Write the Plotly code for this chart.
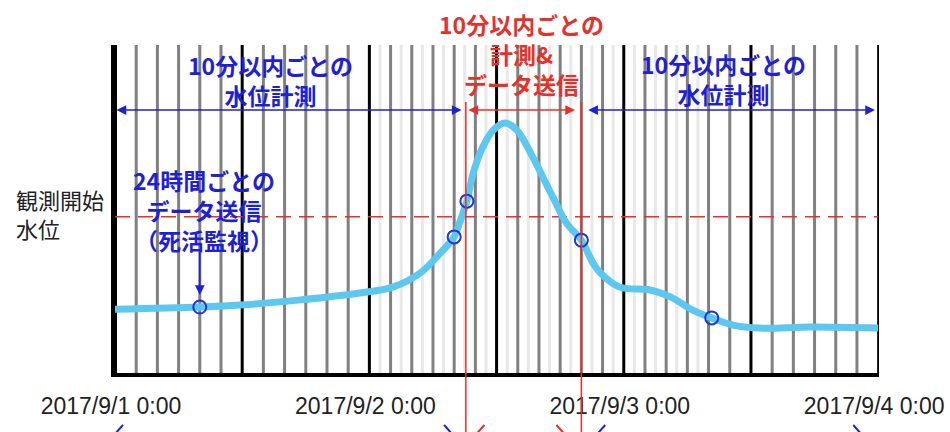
import plotly.graph_objects as go
import pandas as pd

# ---------------- data ----------------
start = pd.Timestamp("2017-09-01 00:00")
level_hours = [0, 8, 11.8, 17.5, 23.1, 26.2, 28.8, 30.7, 32, 32.5, 33.2, 33.8, 34.7, 35.7, 36.8,
               37.9, 39.4, 41.3, 42.6, 44, 45.1, 45.8, 47.6, 50.5, 52.4, 54.5, 56.3, 58.3,
               60.8, 65.6, 72]
level_values = [19.4, 20.1, 20.7, 22.3, 24.4, 26.2, 30.5, 36.6, 41.5, 45.7, 52.4, 61.0, 68.9, 74.1, 76.2,
                74.1, 65.9, 53.7, 45.7, 40.5, 33.5, 30.5, 26.2, 25.3, 23.2, 19.2, 16.8, 14.6,
                13.7, 14.0, 13.7]
sample_hours = [8, 32, 33.2, 44, 56.3]
sample_values = [20.1, 41.5, 52.4, 40.5, 16.8]
start_level = 47.6              # 観測開始水位
alert_window = [33.1, 44.0]     # 計測&データ送信 window (hours)
major_hours = [0, 12, 24, 36, 48, 60, 72]
minor_hours = [h for h in range(2, 72, 2) if h % 12 != 0]
fine_hours = list(range(25, 56, 2))
tick_hours = [0, 24, 48, 72]
tick_labels = ["2017/9/1 0:00", "2017/9/2 0:00", "2017/9/3 0:00", "2017/9/4 0:00"]
# arrow tips of the (cut-off) bottom arrows: (hour, direction, colour key)
bottom_tips = [(0, -1, "b"), (31.8, 1, "b"), (34.1, -1, "r"), (42.4, 1, "r"), (45.5, -1, "b"), (70.4, 1, "b")]


def T(h):
    return start + pd.Timedelta(hours=h)


# ---------------- layout helpers ----------------
L, R, TOP, BOT = 115, 879, 45, 373
W, H = 950, 432


def py(p):
    return (BOT - p) / (BOT - TOP)


def px(p):
    return (p - L) / (R - L)


BLUE = "#1f1fd8"
RED = "#e8302a"
CURVE = "#5cc8f0"

fig = go.Figure()
fig.add_trace(go.Scatter(x=[T(h) for h in level_hours], y=level_values, mode="lines",
                         line=dict(color=CURVE, width=7, shape="spline", smoothing=1.0),
                         hoverinfo="skip", showlegend=False))
fig.add_trace(go.Scatter(x=[T(h) for h in sample_hours], y=sample_values, mode="markers",
                         marker=dict(symbol="circle-open", size=13, color="#2236d0",
                                     line=dict(width=2, color="#2236d0")),
                         showlegend=False))

shapes = []
for h in fine_hours:
    shapes.append(dict(type="line", xref="x", yref="paper", x0=T(h), x1=T(h), y0=0, y1=1,
                       line=dict(color="#e8e8e8", width=3), layer="below"))
for h in minor_hours:
    shapes.append(dict(type="line", xref="x", yref="paper", x0=T(h), x1=T(h), y0=0, y1=1,
                       line=dict(color="#808080", width=3), layer="below"))
for h in major_hours:
    w = 4 if h == 0 else (2 if h == 72 else 3)
    shapes.append(dict(type="line", xref="x", yref="paper", x0=T(h), x1=T(h), y0=0, y1=1,
                       line=dict(color="black", width=w), layer="below"))
shapes.append(dict(type="line", xref="x", yref="y", x0=T(0), x1=T(72), y0=start_level, y1=start_level,
                   line=dict(color=RED, width=1.5, dash="15px,8px"), layer="below"))
for h in alert_window:
    shapes.append(dict(type="line", xref="x", yref="paper", x0=T(h), x1=T(h), y0=-0.25, y1=py(102),
                       line=dict(color=RED, width=1.5), layer="above"))
# upper arms of the arrow heads peeking in at the bottom edge
for h, d, c in bottom_tips:
    col = BLUE if c == "b" else RED
    shapes.append(dict(type="line", xref="x", yref="paper", x0=T(h), x1=T(h - d * 0.75),
                       y0=py(434), y1=py(425), line=dict(color=col, width=2), layer="above"))

ann = []


def darrow(h0, h1, yp, color, size=1.3):
    ann.append(dict(x=T(h1), y=yp, xref="x", yref="paper", ax=T(h0), ay=0, axref="x", ayref="pixel",
                    text="", showarrow=True, arrowside="end+start", arrowhead=2, startarrowhead=2,
                    arrowsize=size, startarrowsize=size, arrowwidth=1.5, arrowcolor=color,
                    standoff=0, startstandoff=0))


darrow(0, 32.7, py(110), BLUE)
darrow(33.2, 43.4, py(110), RED)
darrow(44.5, 71.7, py(110), BLUE)

# arrow down to the daily sample
ann.append(dict(x=T(8), y=py(295), xref="x", yref="paper", ax=0, ay=-45, axref="pixel", ayref="pixel",
                text="", showarrow=True, arrowhead=2, arrowsize=1.3, arrowwidth=1.5, arrowcolor=BLUE,
                standoff=0))


def label(text, cx, cy, color, size=23, bold=True, anchor="center"):
    t = f"<b>{text}</b>" if bold else text
    ann.append(dict(x=px(cx), y=py(cy), xref="paper", yref="paper", text=t, showarrow=False,
                    xanchor=anchor, yanchor="middle", align=anchor if anchor != "center" else "center",
                    font=dict(family="Noto Sans CJK JP", size=size, color=color)))


label("10分以内ごとの<br>水位計測", 270, 80, BLUE)
label("10分以内ごとの<br>計測&amp;<br>データ送信", 521, 54, RED)
label("10分以内ごとの<br>水位計測", 723, 79, BLUE)
label("24時間ごとの<br>データ送信<br>（死活監視）", 204, 210, BLUE)
label("観測開始<br>水位", 14, 213, "#222222", size=22, bold=False, anchor="left")

fig.update_layout(
    width=W, height=H,
    margin=dict(l=L, r=W - R, t=TOP, b=H - BOT, autoexpand=False),
    paper_bgcolor="white", plot_bgcolor="white",
    shapes=shapes, annotations=ann,
    xaxis=dict(type="date", range=[T(0), T(72.08)], showgrid=False, zeroline=False,
               showline=True, linecolor="black", linewidth=4, automargin=False,
               tickmode="array", tickvals=[T(h) for h in tick_hours], ticktext=tick_labels,
               ticks="", ticklabelstandoff=9, ticklabelshift=-4, ticklabeloverflow="allow",
               tickfont=dict(family="Liberation Sans, Arial", size=23, color="#222222"),
               fixedrange=True),
    yaxis=dict(range=[0, 100], showgrid=False, zeroline=False, showticklabels=False,
               showline=True, linecolor="black", linewidth=4, ticks="", fixedrange=True,
               automargin=False),
    showlegend=False,
)

fig.write_html("out.html", config={"displayModeBar": False},
               post_script="document.body.style.margin='0';")
